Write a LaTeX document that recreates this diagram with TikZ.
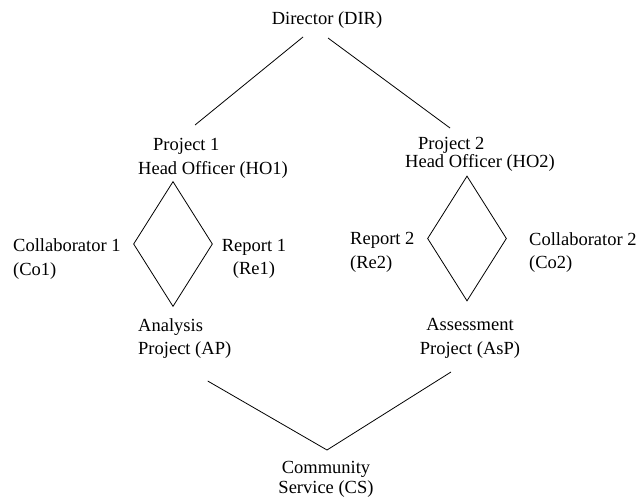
\documentclass[tikz,border=0pt]{standalone}
\usepackage{fontspec}
\setmainfont{Liberation Serif}
\usetikzlibrary{shapes.geometric}
\begin{document}
\begin{tikzpicture}[x=1pt, y=-1pt,
  lbl/.style={inner sep=0pt, font=\fontsize{18.5}{23.5}\selectfont},
  tight/.style={font=\fontsize{18.5}{16}\selectfont},
  rhomb/.style={draw, shape=diamond, inner sep=0pt, line width=0.8pt,
                minimum width=79pt, minimum height=125pt},
  link/.style={line width=0.8pt}]
  \useasboundingbox (0,0) rectangle (637,500);

  % top of the hierarchy
  \node[lbl] (dir) at (327,20) {Director (DIR)};

  % the two project heads
  \node[lbl, align=left, anchor=west] (ho1) at (138,158.5)
       {\hspace*{15pt}Project 1\\Head Officer (HO1)};
  \node[lbl, tight, align=left, anchor=west] (ho2) at (405,154)
       {\hspace*{13pt}Project 2\\Head Officer (HO2)};

  % the two diamonds
  \node[rhomb] (d1) at (173,244) {};
  \node[rhomb] (d2) at (467,238.5) {};

  % labels beside the diamonds
  \node[lbl, align=left, anchor=west] (co1) at (13,259) {Collaborator 1\\(Co1)};
  \node[lbl, align=center] (re1) at (254,259) {Report 1\\(Re1)};
  \node[lbl, align=left, anchor=west] (re2) at (350,252.5) {Report 2\\(Re2)};
  \node[lbl, align=left, anchor=west] (co2) at (529,252.5) {Collaborator 2\\(Co2)};

  % the projects
  \node[lbl, align=left, anchor=west] (ap) at (138,338.5) {Analysis\\Project (AP)};
  \node[lbl, align=center] (asp) at (470,338.5) {Assessment\\Project (AsP)};

  % bottom
  \node[lbl, font=\fontsize{18.5}{20}\selectfont, align=center] (cs) at (326,479)
       {Community\\Service (CS)};

  % connectors
  \draw[link] ([shift={(-24,17)}]dir.center) -- ([shift={(-18,-33.5)}]ho1.center);
  \draw[link] ([shift={(1,18)}]dir.center) -- ([shift={(-30,-26)}]ho2.center);
  \draw[link] ([shift={(23,42.5)}]ap.center) -- ([shift={(1,-29)}]cs.center)
              -- ([shift={(-19,33.5)}]asp.center);
\end{tikzpicture}
\end{document}
